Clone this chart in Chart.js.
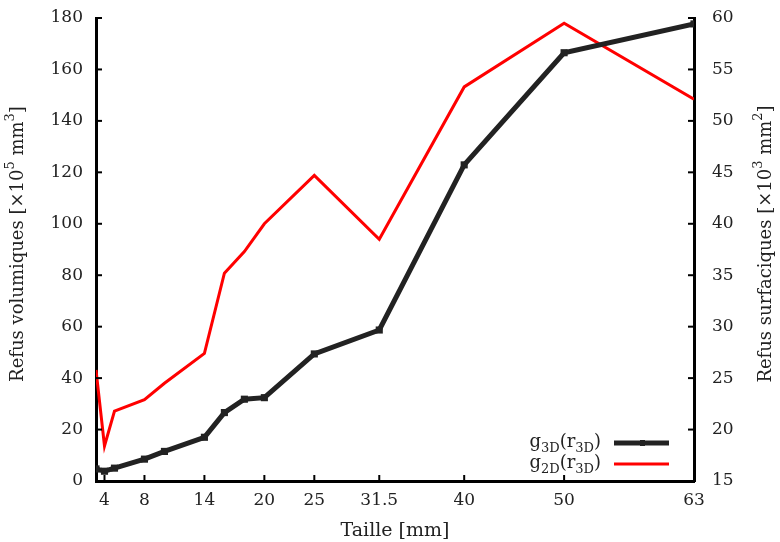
<!DOCTYPE html>
<html lang="fr">
<head>
<meta charset="UTF-8">
<title>Refus</title>
<script src="https://cdn.jsdelivr.net/npm/chart.js"></script>
<style>
  body { margin: 0; background: #fff; }
</style>
</head>
<body>
<canvas id="myChart" width="780" height="542"></canvas>
<script>
// tailles des tamis [mm]
const tailles = [3.15, 4, 5, 8, 10, 14, 16, 18, 20, 25, 31.5, 40, 50, 63];
// refus volumiques (axe gauche, x10^5 mm^3)
const refusVol = [4.7, 3.8, 5.0, 8.5, 11.5, 17.0, 26.6, 31.8, 32.4, 49.4, 58.7, 122.9, 166.5, 177.7];
// refus surfaciques (axe droit, x10^3 mm^2)
const refusSurf = [25.8, 18.4, 21.8, 22.9, 24.5, 27.4, 35.2, 37.3, 40.0, 44.7, 38.5, 53.3, 59.5, 52.1];
// graduations de l'axe x
const xTicks = [4, 8, 14, 20, 25, 31.5, 40, 50, 63];

const FONT = "'DejaVu Serif', serif";
Chart.defaults.font.family = FONT;
Chart.defaults.font.size = 17;
Chart.defaults.color = '#222';

// écrit un texte avec exposants / indices : parts = [[texte, décalage, taille]]
function drawParts(ctx, parts, x, y, align) {
  let total = 0;
  parts.forEach(p => { ctx.font = p[2] + 'px ' + FONT; total += ctx.measureText(p[0]).width; });
  let cx = align === 'right' ? x - total : (align === 'center' ? x - total / 2 : x);
  parts.forEach(p => {
    ctx.font = p[2] + 'px ' + FONT;
    ctx.fillText(p[0], cx, y + p[1]);
    cx += ctx.measureText(p[0]).width;
  });
}

// ticks tournés vers l'intérieur
const innerTicks = {
  id: 'innerTicks',
  afterDraw(chart) {
    const ctx = chart.ctx;
    const a = chart.chartArea;
    ctx.save();
    ctx.strokeStyle = '#000';
    ctx.lineWidth = 2;
    const len = 6;
    ['x', 'y', 'y2'].forEach(id => {
      const s = chart.scales[id];
      s.ticks.forEach((t, i) => {
        const p = s.getPixelForTick(i);
        ctx.beginPath();
        if (id === 'x') { ctx.moveTo(p, a.bottom); ctx.lineTo(p, a.bottom - len); }
        else if (id === 'y') { ctx.moveTo(a.left, p); ctx.lineTo(a.left + len, p); }
        else { ctx.moveTo(a.right, p); ctx.lineTo(a.right - len, p); }
        ctx.stroke();
      });
    });
    ctx.restore();
  }
};

// titres des axes verticaux (lus de bas en haut)
const yTitles = {
  id: 'yTitles',
  afterDraw(chart) {
    const ctx = chart.ctx;
    ctx.save();
    ctx.fillStyle = '#222';
    ctx.textBaseline = 'middle';
    const titles = [
      { x: 18, parts: [['Refus volumiques [×10', 0, 18], ['5', -7, 13], [' mm', 0, 18], ['3', -7, 13], [']', 0, 18]] },
      { x: 766, parts: [['Refus surfaciques [×10', 0, 18], ['3', -7, 13], [' mm', 0, 18], ['2', -7, 13], [']', 0, 18]] }
    ];
    titles.forEach(t => {
      ctx.save();
      ctx.translate(t.x, 244);
      ctx.rotate(-Math.PI / 2);
      drawParts(ctx, t.parts, 0, 0, 'center');
      ctx.restore();
    });
    ctx.restore();
  }
};

// légende avec indices
const legendSub = {
  id: 'legendSub',
  afterDraw(chart) {
    const ctx = chart.ctx;
    const items = [
      { d: '2D', color: '#ff0000', w: 3, y: 464, marker: false },
      { d: '3D', color: '#222', w: 5, y: 443, marker: true }
    ];
    ctx.save();
    items.forEach(it => {
      ctx.fillStyle = '#222';
      ctx.textBaseline = 'alphabetic';
      drawParts(ctx, [['g', 0, 18], [it.d, 5, 13], ['(r', 0, 18], ['3D', 5, 13], [')', 0, 18]], 601, it.y + 4, 'right');
      ctx.strokeStyle = it.color;
      ctx.lineWidth = it.w;
      ctx.beginPath();
      ctx.moveTo(614, it.y);
      ctx.lineTo(669, it.y);
      ctx.stroke();
      if (it.marker) {
        ctx.fillStyle = it.color;
        ctx.fillRect(640, it.y - 3, 5, 6);
      }
    });
    ctx.restore();
  }
};

const noPad = s => { s.paddingTop = 0; s.paddingBottom = 0; };

new Chart(document.getElementById('myChart'), {
  type: 'line',
  data: {
    datasets: [
      {
        label: 'g3D(r3D)',
        data: tailles.map((t, i) => ({ x: t, y: refusVol[i] })),
        yAxisID: 'y',
        borderColor: '#222',
        backgroundColor: '#222',
        borderWidth: 5,
        pointStyle: 'rect',
        pointRadius: 1.5,
        tension: 0
      },
      {
        label: 'g2D(r3D)',
        data: tailles.map((t, i) => ({ x: t, y: refusSurf[i] })),
        yAxisID: 'y2',
        borderColor: '#ff0000',
        backgroundColor: '#ff0000',
        borderWidth: 3,
        pointRadius: 0,
        tension: 0
      }
    ]
  },
  options: {
    responsive: false,
    animation: false,
    layout: { padding: { top: 18, left: 0, right: 0, bottom: 0 } },
    plugins: { legend: { display: false }, tooltip: { enabled: false } },
    scales: {
      x: {
        type: 'linear',
        min: 3.15,
        max: 63,
        afterBuildTicks: s => { s.ticks = xTicks.map(v => ({ value: v })); },
        afterFit: s => { s.height = 61; s.paddingLeft = 0; s.paddingRight = 0; },
        grid: { display: false, drawTicks: false },
        border: { color: '#000', width: 3 },
        ticks: { padding: 9, maxRotation: 0, autoSkip: false, callback: v => String(v) },
        title: { display: true, text: 'Taille [mm]', font: { size: 19 }, padding: { top: 0, bottom: 0 } }
      },
      y: {
        position: 'left',
        min: 0,
        max: 180,
        afterFit: s => { s.width = 96; noPad(s); },
        grid: { display: false, drawTicks: false },
        border: { color: '#000', width: 3 },
        ticks: { stepSize: 20, padding: 13 }
      },
      y2: {
        position: 'right',
        min: 15,
        max: 60,
        afterFit: s => { s.width = 86; noPad(s); },
        grid: { display: false, drawTicks: false },
        border: { color: '#000', width: 3 },
        ticks: { stepSize: 5, padding: 18 }
      }
    }
  },
  plugins: [innerTicks, yTitles, legendSub]
});
</script>
</body>
</html>
